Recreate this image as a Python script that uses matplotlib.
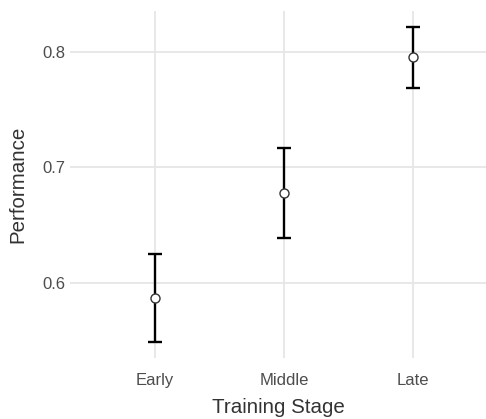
import matplotlib
matplotlib.use("Agg")
import matplotlib.pyplot as plt

stages = ["Early", "Middle", "Late"]
means = [0.5865, 0.6777, 0.7952]
lower = [0.5484, 0.6390, 0.7683]
upper = [0.6248, 0.7170, 0.8216]
yticks = [0.6, 0.7, 0.8]

plt.rcParams['font.family'] = ['Liberation Sans', 'DejaVu Sans']

W, H = 486, 419
fig = plt.figure(figsize=(W / 100, H / 100), dpi=100)
ax = fig.add_axes([70 / W, 1 - 358 / H, (486 - 70) / W, (358 - 11) / H])

x = list(range(1, len(stages) + 1))
yerr = [[m - l for m, l in zip(means, lower)], [u - m for m, u in zip(means, upper)]]
ax.errorbar(x, means, yerr=yerr, fmt='none', ecolor='black', elinewidth=1.7,
            capsize=4.7, capthick=1.7, zorder=3)
ax.plot(x, means, 'o', markersize=6.5, markerfacecolor='white',
        markeredgecolor='#333333', markeredgewidth=1.0, zorder=4)

ax.set_xlim(0.343, 3.566)
ax.set_ylim(0.5348, 0.8353)
ax.set_xticks(x)
ax.set_xticklabels(stages)
ax.set_yticks(yticks)
ax.set_yticklabels([f"{v:.1f}" for v in yticks])

ax.grid(True, color='#E6E6E6', linewidth=1.3)
ax.set_axisbelow(True)
for s in ax.spines.values():
    s.set_visible(False)
ax.tick_params(length=0, labelsize=12, labelcolor='#4D4D4D')
ax.tick_params(axis='x', pad=11)
ax.tick_params(axis='y', pad=3)
ax.set_xlabel("Training Stage", fontsize=14.8, color='#333333', labelpad=7)
ax.set_ylabel("Performance", fontsize=14.8, color='#333333', labelpad=11)

fig.savefig("out.png", dpi=100)
